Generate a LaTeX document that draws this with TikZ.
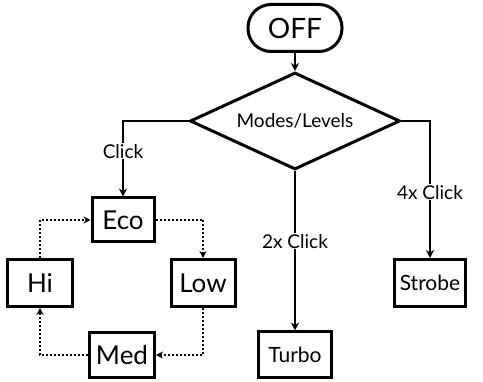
\documentclass[tikz,border=0pt]{standalone}
\usepackage{fontspec}
\setmainfont{Lato}
\usetikzlibrary{shapes.geometric,arrows.meta}
\begin{document}
\begin{tikzpicture}[x=1pt,y=-1pt,
  box/.style={draw,line width=3pt,inner sep=0pt,font=\fontsize{26}{26}\selectfont},
  sbox/.style={draw,line width=3pt,inner sep=0pt,font=\fontsize{21}{21}\selectfont},
  conn/.style={line width=2pt,-{Stealth[length=8pt,width=8pt]}},
  dconn/.style={line width=1.5pt,dash pattern=on 2pt off 2pt,-{Stealth[length=7pt,width=7pt]}},
  lbl/.style={fill=white,inner sep=1pt,font=\fontsize{19}{19}\selectfont}]
\fill[white] (0,0) rectangle (483,382);
\useasboundingbox (0,0) rectangle (483,382);
\node[box,rounded corners=23pt,minimum width=94pt,minimum height=47pt,font=\fontsize{28}{28}\selectfont] (off) at (295,28) {OFF};
\node[draw,line width=3pt,diamond,aspect=2.16,minimum width=210pt,minimum height=97pt,inner sep=0pt,font=\fontsize{19}{19}\selectfont] (modes) at (295,121) {Modes/Levels};
\node[box,minimum width=62pt,minimum height=44pt] (eco) at (123,220) {Eco};
\node[box,minimum width=65pt,minimum height=47pt] (hi) at (40,283) {Hi};
\node[box,minimum width=64pt,minimum height=47pt] (low) at (203,283) {Low};
\node[box,minimum width=65pt,minimum height=45pt] (med) at (122,355) {Med};
\node[sbox,minimum width=73pt,minimum height=46pt] (turbo) at (295,355) {Turbo};
\node[sbox,minimum width=71pt,minimum height=47pt] (strobe) at (430,283) {Strobe};
\draw[conn] (off) -- (modes);
\draw[conn] (modes.west) -| node[lbl,pos=0.7] {Click} (eco.north);
\draw[conn] (modes.south) -- node[lbl,pos=0.44] {2x Click} (turbo.north);
\draw[conn] (modes.east) -| node[lbl,pos=0.76] {4x Click} (strobe.north);
\draw[dconn] (eco.east) -| (low.north);
\draw[dconn] (low.south) |- (med.east);
\draw[dconn] (med.west) -| (hi.south);
\draw[dconn] (hi.north) |- (eco.west);
\end{tikzpicture}
\end{document}
